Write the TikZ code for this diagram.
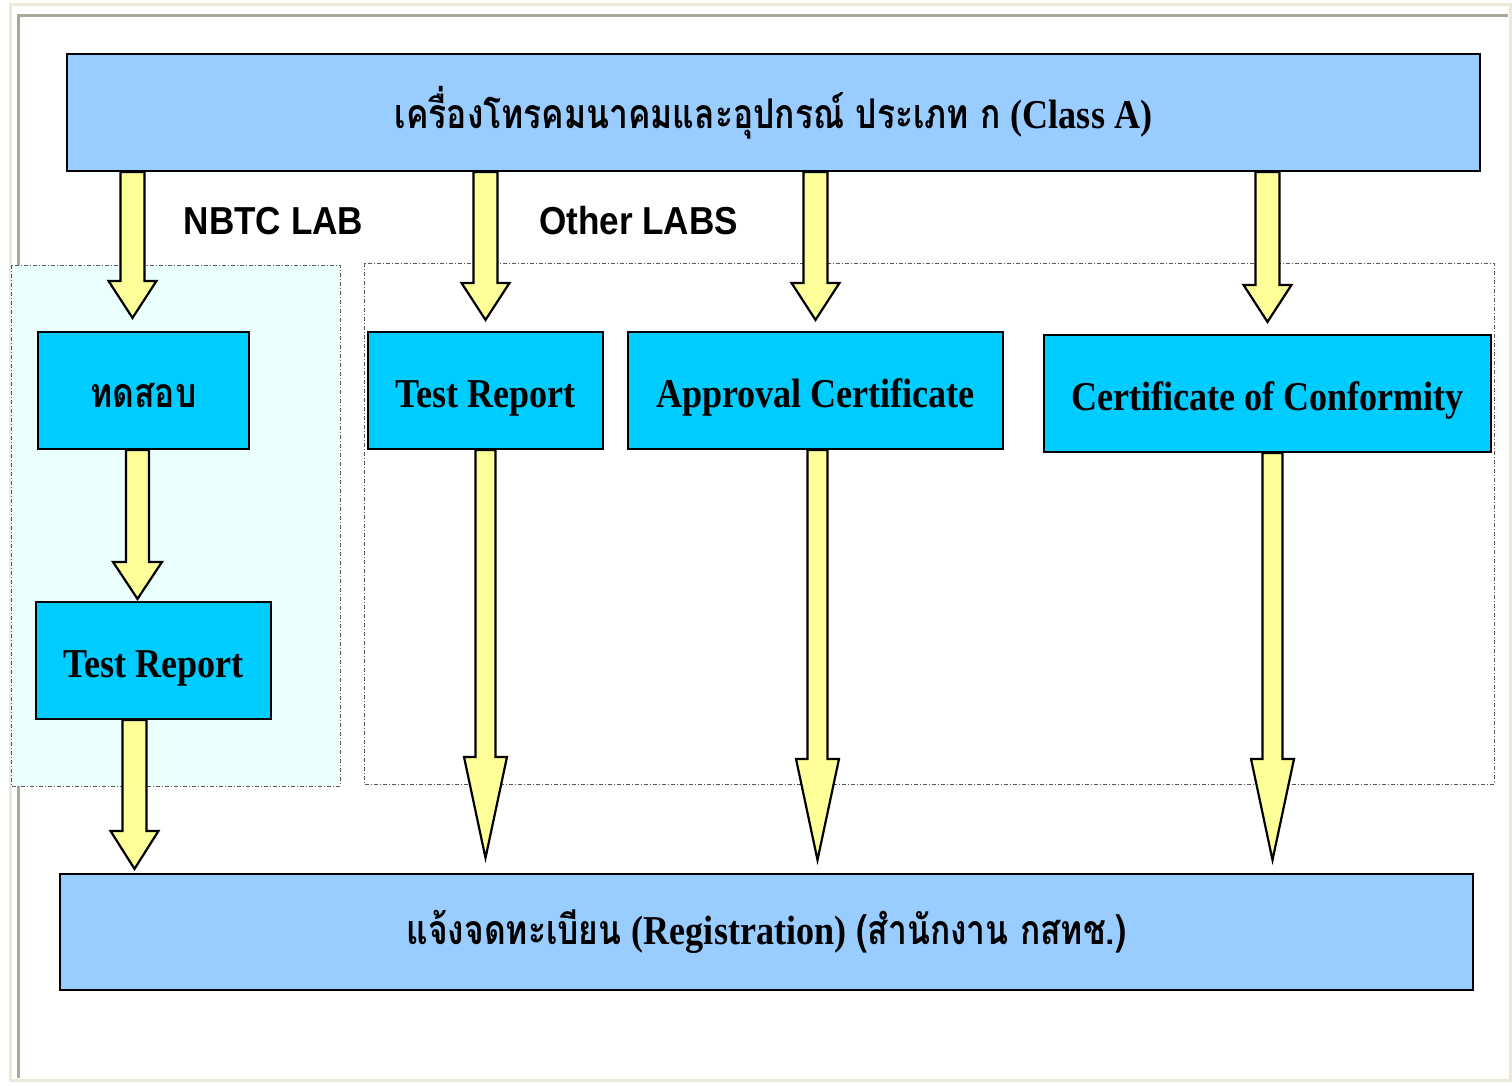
\documentclass[tikz,border=0pt]{standalone}
\usepackage{fontspec}
\setmainfont{Liberation Serif}
\newfontfamily\thaifont[Script=Thai,FakeStretch=0.82]{Loma}
\newfontfamily\condserif[FakeStretch=0.88]{Liberation Serif}
\newfontfamily\labelsans[FakeStretch=0.9]{Liberation Sans}
\usetikzlibrary{calc}
\definecolor{mainblue}{HTML}{99CCFF}
\definecolor{boxcyan}{HTML}{00CCFF}
\definecolor{arrowyellow}{HTML}{FFFF99}
\definecolor{nbtcfill}{HTML}{EBFFFF}
\definecolor{framebeige}{HTML}{ECE9D8}
\definecolor{framegray}{HTML}{ACA899}
\newcommand\fatarrow[5]{%
  \draw[arrowbox] let \p1=#1, \p2=#2 in
    (\x1-#3,\y1) -- (\x1-#3,\y2+#5) -- (\x1-#4,\y2+#5) -- (\x1,\y2)
    -- (\x1+#4,\y2+#5) -- (\x1+#3,\y2+#5) -- (\x1+#3,\y1) -- cycle;}
\begin{document}
\begin{tikzpicture}[x=1pt,y=-1pt,
    mainbox/.style={draw=black,fill=mainblue,line width=2.2pt,inner sep=0pt,
      minimum width=1413pt,font=\bfseries\fontsize{41}{45}\selectfont},
    labbox/.style={draw=black,fill=boxcyan,line width=2.2pt,inner sep=0pt,
      minimum height=117pt,text height=34pt,text depth=0pt,
      font=\condserif\bfseries\fontsize{41}{45}\selectfont},
    arrowbox/.style={draw=black,fill=arrowyellow,line width=2.2pt,line join=miter},
    region/.style={draw=black!65,line width=0.9pt,
      dash pattern=on 4pt off 2pt on 1pt off 2pt},
    lablabel/.style={anchor=base,font=\labelsans\bfseries\fontsize{39}{42}\selectfont}]
  \useasboundingbox (0,0) rectangle (1512,1085);
  \fill[white] (0,0) rectangle (1512,1085);
  \draw[framebeige,line width=3pt] (10,4) rectangle (1510,1080);
  \draw[framegray,line width=3pt] (18,1078) -- (18,15) -- (1508,15);
  \draw[region,fill=nbtcfill] (11,265) rectangle (340,786);
  \draw[region] (364,263) rectangle (1494,784);
  \node[mainbox,minimum height=117pt] (top) at (773.5,112.5)
    {{\thaifont เครื่องโทรคมนาคมและอุปกรณ์ ประเภท ก} {\condserif (Class A)}};
  \node[mainbox,minimum height=116pt] (reg) at (766.5,932)
    {\raisebox{-3pt}{{\thaifont แจ้งจดทะเบียน} {\condserif (Registration)} {\thaifont (สำนักงาน กสทช.)}}};
  \node[labbox,minimum width=211pt] (tst) at (143.5,390.5) {\thaifont ทดสอบ};
  \node[labbox,minimum width=235pt] (tr0) at (153.5,660.5) {Test Report};
  \node[labbox,minimum width=235pt] (tr1) at (485.5,390.5) {Test Report};
  \node[labbox,minimum width=375pt] (ac) at (815.5,390.5) {Approval Certificate};
  \node[labbox,minimum width=447pt] (coc) at (1267.5,393.5) {Certificate of Conformity};
  \node[lablabel] (nbtc) at (273.5,234) {NBTC LAB};
  \node[lablabel] (other) at (638.5,234) {Other LABS};
  \fatarrow{($(top.south -| tst.north)+(-11,0)$)}{([yshift=13pt]tst.north)}{12pt}{24pt}{37pt}
  \fatarrow{(top.south -| tr1.north)}{([yshift=11pt]tr1.north)}{12pt}{24pt}{37pt}
  \fatarrow{(top.south -| ac.north)}{([yshift=11pt]ac.north)}{12pt}{24pt}{37pt}
  \fatarrow{(top.south -| coc.north)}{([yshift=12pt]coc.north)}{12pt}{24pt}{37pt}
  \fatarrow{([xshift=-6pt]tst.south)}{([yshift=2pt]tr0.north)}{11.5pt}{24.5pt}{37pt}
  \fatarrow{([xshift=-19pt]tr0.south)}{([yshift=4pt]reg.north)}{12pt}{24pt}{38pt}
  \fatarrow{(tr1.south)}{([yshift=15pt]reg.north)}{10pt}{21.5pt}{101pt}
  \fatarrow{([xshift=2pt]ac.south)}{([yshift=13pt]reg.north)}{10pt}{21.5pt}{101pt}
  \fatarrow{([xshift=5pt]coc.south)}{([yshift=13pt]reg.north)}{10pt}{21.5pt}{101pt}
\end{tikzpicture}
\end{document}
